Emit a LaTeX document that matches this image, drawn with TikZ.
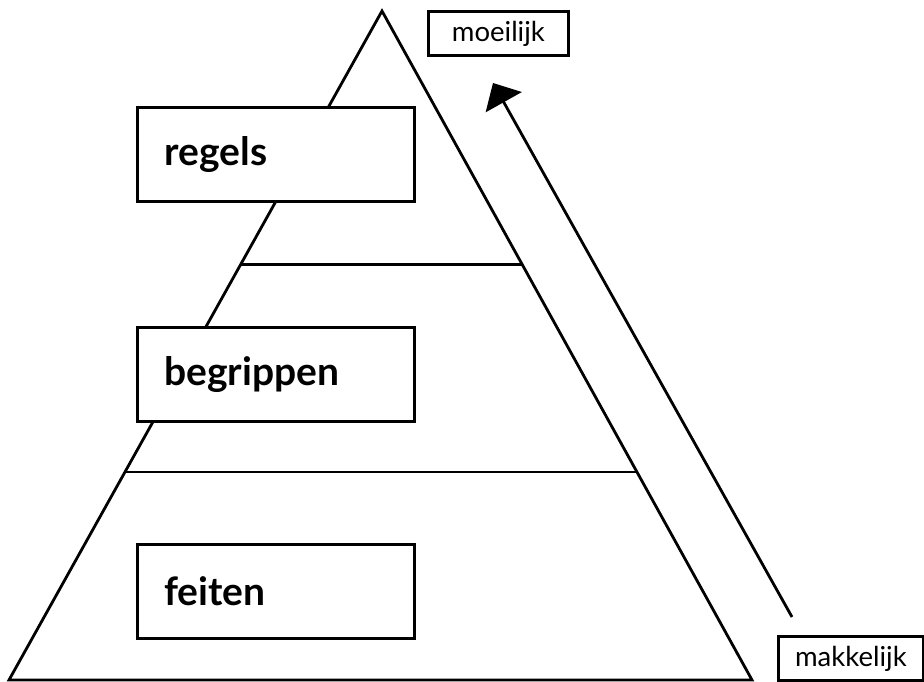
\documentclass[tikz,border=0pt]{standalone}
\usepackage{fontspec}
\setmainfont{Lato}
\usetikzlibrary{positioning,calc,arrows.meta}

\begin{document}
\begin{tikzpicture}[x=1pt, y=-1pt, line width=2.8pt,
    level/.style={draw, fill=white, minimum width=277pt, minimum height=94pt, text width=223pt, inner xsep=27pt, align=left, font=\fontsize{39}{41}\selectfont\bfseries},
    tag/.style={draw, fill=white, minimum height=44pt, font=\fontsize{27.5}{29}\selectfont}]
    \useasboundingbox (0,0) rectangle (924,682);

    % pyramid
    \coordinate (left) at (9,680);
    \coordinate (top) at (382,11);
    \coordinate (right) at (752,680);
    \draw (left) -- (top) -- (right) -- cycle;
    \draw ($(left)!0.621!(top)$) -- ($(right)!0.621!(top)$);
    \draw ($(left)!0.311!(top)$) -- ($(right)!0.311!(top)$);

    \node [level, anchor=north west] (regels) at (136,106) {regels};
    \node [level, anchor=north west] (begrippen) at (136,326) {begrippen};
    \node [level, anchor=north west] (feiten) at (136,543) {feiten};

    % difficulty
    \node [tag, minimum width=140pt, anchor=north west] (moeilijk) at (427,10) {moeilijk};
    \node [tag, minimum width=145pt, anchor=north west] (makkelijk) at (777,635) {makkelijk};
    \coordinate (foot) at (792,617);
    \coordinate (tip) at (493,83);
    \draw [-{Triangle[length=22pt,width=41pt]}] (foot) -- (tip);
\end{tikzpicture}
\end{document}
